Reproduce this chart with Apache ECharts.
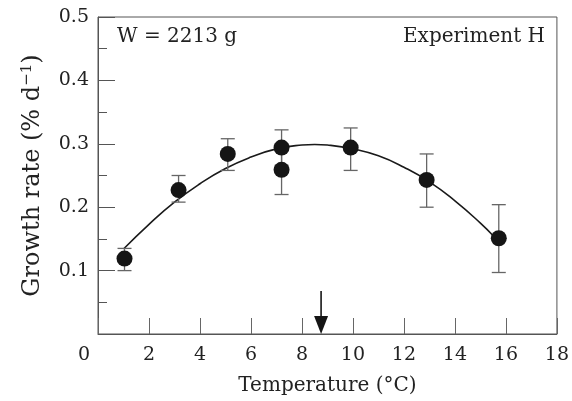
<!DOCTYPE html>
<html>
<head>
<meta charset="utf-8">
<script src="https://cdn.jsdelivr.net/npm/echarts@6/dist/echarts.min.js"></script>
<style>
  html, body { margin: 0; padding: 0; background: #fff; }
  #chart { width: 572px; height: 401px; }
</style>
</head>
<body>
<div id="chart"></div>
<script>
// measured points (temperature, growth rate) with error bar ends
const tempX = [1.04, 3.16, 5.09, 7.2, 7.2, 9.91, 12.89, 15.72];
const rateY = [0.119, 0.227, 0.284, 0.294, 0.259, 0.294, 0.243, 0.151];
const errLow = [0.100, 0.208, 0.258, 0.266, 0.220, 0.258, 0.200, 0.097];
const errHigh = [0.135, 0.250, 0.308, 0.322, 0.300, 0.325, 0.284, 0.204];

// fitted curve
const curveX = [1, 2, 3, 4, 5, 6, 7, 8, 8.5, 9, 10, 11, 12, 13, 14, 15, 15.5];
const curveY = [0.134, 0.173, 0.208, 0.237, 0.261, 0.279, 0.292, 0.298, 0.299, 0.298, 0.292, 0.281, 0.263, 0.240, 0.210, 0.175, 0.155];

// optimum temperature arrow
const arrowX = 8.75;
const arrowTop = 0.068;

const font = 'DejaVu Serif';
const chart = echarts.init(document.getElementById('chart'));

chart.setOption({
    animation: false,
    textStyle: { fontFamily: font, color: '#222' },
    grid: {
        left: 98, top: 17, right: 14, bottom: 64,
        show: true, borderColor: '#555', borderWidth: 1
    },
    xAxis: {
        type: 'value',
        min: 0, max: 18, interval: 2,
        name: 'Temperature (°C)',
        nameLocation: 'middle',
        nameGap: 42,
        nameTextStyle: { fontFamily: font, fontSize: 20, color: '#222' },
        axisLine: { lineStyle: { color: '#555' } },
        axisTick: { inside: true, length: 16, lineStyle: { color: '#666' } },
        splitLine: { show: false },
        axisLabel: {
            fontFamily: font, fontSize: 19, color: '#222', margin: 12,
            formatter: v => v === 0 ? '{z|0}' : String(v),
            rich: { z: { fontFamily: font, fontSize: 19, color: '#222', padding: [0, 28, 0, 0] } }
        }
    },
    yAxis: {
        type: 'value',
        min: 0, max: 0.5, interval: 0.1,
        name: '{n|Growth rate (% d}{s|−1}{n|)}',
        nameLocation: 'middle',
        nameGap: 53,
        nameRotate: 90,
        nameTextStyle: {
            rich: {
                n: { fontFamily: font, fontSize: 24, color: '#222' },
                s: { fontFamily: font, fontSize: 15, color: '#222', verticalAlign: 'top', padding: [0, 0, 10, 0] }
            }
        },
        axisLine: { lineStyle: { color: '#555' } },
        axisTick: { inside: true, length: 17, lineStyle: { color: '#555' } },
        minorTick: { show: true, splitNumber: 2, length: 9, lineStyle: { color: '#555' } },
        splitLine: { show: false },
        axisLabel: {
            fontFamily: font, fontSize: 19, color: '#222', margin: 9,
            formatter: v => v === 0 ? '' : v.toFixed(1)
        }
    },
    graphic: [
        { type: 'text', left: 117, top: 27, style: { text: 'W = 2213 g', font: '20px "DejaVu Serif"', fill: '#222' } },
        { type: 'text', right: 27, top: 27, style: { text: 'Experiment H', font: '20px "DejaVu Serif"', fill: '#222' } }
    ],
    series: [
        {
            type: 'line',
            data: curveX.map((x, i) => [x, curveY[i]]),
            smooth: true,
            showSymbol: false,
            lineStyle: { color: '#1a1a1a', width: 1.6 },
            z: 2
        },
        {
            type: 'custom',
            data: tempX.map((x, i) => [x, errLow[i], errHigh[i]]),
            renderItem: function (params, api) {
                const lo = api.coord([api.value(0), api.value(1)]);
                const hi = api.coord([api.value(0), api.value(2)]);
                const w = 7;
                const st = { stroke: '#666', lineWidth: 1.3 };
                return {
                    type: 'group',
                    children: [
                        { type: 'line', shape: { x1: lo[0], y1: lo[1], x2: hi[0], y2: hi[1] }, style: st },
                        { type: 'line', shape: { x1: lo[0] - w, y1: lo[1], x2: lo[0] + w, y2: lo[1] }, style: st },
                        { type: 'line', shape: { x1: hi[0] - w, y1: hi[1], x2: hi[0] + w, y2: hi[1] }, style: st }
                    ]
                };
            },
            z: 3
        },
        {
            type: 'scatter',
            data: tempX.map((x, i) => [x, rateY[i]]),
            symbol: 'circle',
            symbolSize: 16,
            itemStyle: { color: '#151515', opacity: 1 },
            z: 4
        },
        {
            type: 'custom',
            data: [[arrowX, arrowTop, 0]],
            renderItem: function (params, api) {
                const top = api.coord([api.value(0), api.value(1)]);
                const tip = api.coord([api.value(0), api.value(2)]);
                const hw = 7, hh = 18;
                return {
                    type: 'group',
                    children: [
                        { type: 'line', shape: { x1: top[0], y1: top[1], x2: tip[0], y2: tip[1] - hh + 2 }, style: { stroke: '#151515', lineWidth: 1.6 } },
                        { type: 'polygon', shape: { points: [[tip[0] - hw, tip[1] - hh], [tip[0] + hw, tip[1] - hh], [tip[0], tip[1]]] }, style: { fill: '#151515' } }
                    ]
                };
            },
            z: 5
        }
    ]
});
</script>
</body>
</html>
